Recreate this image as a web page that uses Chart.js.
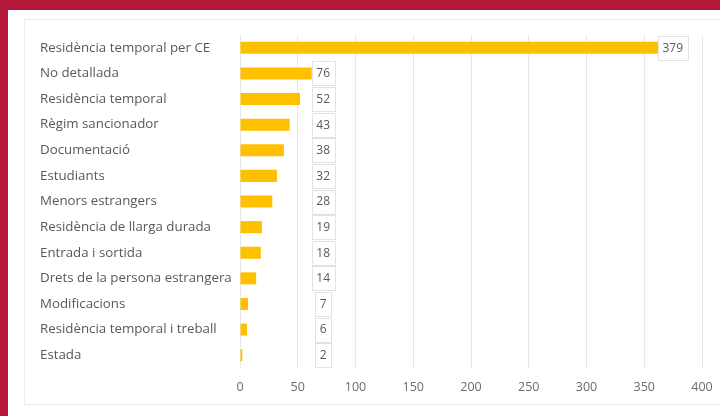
<!DOCTYPE html>
<html><head><meta charset="utf-8">
<script src="https://cdn.jsdelivr.net/npm/chart.js@4/dist/chart.umd.min.js"></script>
<style>
html,body{margin:0;padding:0;width:720px;height:416px;overflow:hidden;background:#B5173A;}
#panel{position:absolute;left:8px;top:10px;width:712px;height:406px;background:#fff;}
#box{position:absolute;left:24px;top:19px;width:700px;height:386px;border:1px solid #ececec;box-sizing:border-box;}
#wrap{position:absolute;left:0;top:0;width:720px;height:416px;}
</style></head>
<body>
<div id="panel"></div><div id="box"></div>
<div id="wrap"><canvas id="c" width="720" height="416"></canvas></div>
<script>
const categories = ["Residència temporal per CE","No detallada","Residència temporal","Règim sancionador","Documentació","Estudiants","Menors estrangers","Residència de llarga durada","Entrada i sortida","Drets de la persona estrangera","Modificacions","Residència temporal i treball","Estada"];
const values = [379,76,52,43,38,32,28,19,18,14,7,6,2];
const xTicks = [0,50,100,150,200,250,300,350,400];

const labelPlugin = {
  id:'boxLabels',
  afterDatasetsDraw(chart){
    const ctx = chart.ctx, meta = chart.getDatasetMeta(0), xs = chart.scales.x;
    const minX = xs.getPixelForValue(72);
    ctx.save();
    ctx.font = '12px "Open Sans", sans-serif';
    ctx.textAlign='center'; ctx.textBaseline='middle';
    meta.data.forEach((bar,i)=>{
      const txt = String(values[i]);
      const cx = Math.max(bar.x - 5, minX);
      const w = ctx.measureText(txt).width + 9, h = 24;
      ctx.fillStyle='#fff'; ctx.fillRect(cx-w/2, bar.y-h/2, w, h);
      ctx.strokeStyle='#e3e3e3'; ctx.lineWidth=1;
      ctx.strokeRect(Math.round(cx-w/2)+0.5, Math.round(bar.y-h/2)+0.5, Math.round(w), h);
      ctx.fillStyle='#5a5a5a'; ctx.fillText(txt, cx, bar.y+0.5);
    });
    ctx.restore();
  }
};

new Chart(document.getElementById('c'), {
  type:'bar',
  data:{labels:categories, datasets:[{data:values, backgroundColor:'#FFC000', borderWidth:0, categoryPercentage:1, barPercentage:0.47}]},
  options:{
    indexAxis:'y', responsive:false, animation:false,
    layout:{padding:{left:40,right:18,top:35,bottom:9}},
    plugins:{legend:{display:false}, tooltip:{enabled:false}},
    scales:{
      x:{min:0,max:400, afterBuildTicks:(s)=>{s.ticks = xTicks.map(v=>({value:v}));},
         afterFit:(s)=>{s.paddingRight=0; s.paddingLeft=0;},
         grid:{color:'#e8e8e8', drawTicks:false}, border:{display:false},
         ticks:{color:'#6b6b6b', font:{family:'"Open Sans", sans-serif', size:12.5}, padding:12}},
      y:{grid:{display:false}, border:{display:false},
         afterFit:(s)=>{s.width=200;},
         ticks:{crossAlign:'far', color:'#595959', font:{family:'"Open Sans", sans-serif', size:13.3}, padding:6, autoSkip:false}}
    }
  },
  plugins:[labelPlugin]
});
</script>
</body></html>
